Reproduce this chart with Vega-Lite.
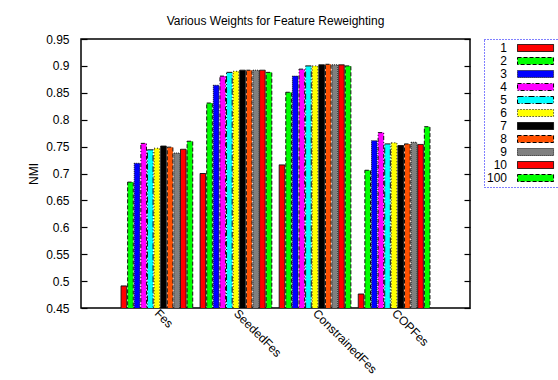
{
  "$schema": "https://vega.github.io/schema/vega-lite/v6.json",
  "width": 389,
  "height": 269,
  "autosize": "none",
  "padding": {"left": 81, "top": 39, "right": 88, "bottom": 72},
  "title": {"text": "Various Weights for Feature Reweighting", "fontSize": 12, "fontWeight": "normal", "font": "Liberation Sans", "offset": 5, "color": "black"},
  "config": {
    "font": "Liberation Sans",
    "view": {"stroke": "black", "strokeWidth": 1.5},
    "axis": {"labelFont": "Liberation Sans", "titleFont": "Liberation Sans", "labelFontSize": 12, "titleFontSize": 12, "labelColor": "black", "titleColor": "black", "tickColor": "black", "titleFontWeight": "normal", "grid": false, "domain": false, "zindex": 1}
  },
  "data": {"values": [
    {"method": "Fes", "weight": "1", "nmi": 0.491},
    {"method": "Fes", "weight": "2", "nmi": 0.684},
    {"method": "Fes", "weight": "3", "nmi": 0.719},
    {"method": "Fes", "weight": "4", "nmi": 0.756},
    {"method": "Fes", "weight": "5", "nmi": 0.744},
    {"method": "Fes", "weight": "6", "nmi": 0.747},
    {"method": "Fes", "weight": "7", "nmi": 0.751},
    {"method": "Fes", "weight": "8", "nmi": 0.749},
    {"method": "Fes", "weight": "9", "nmi": 0.738},
    {"method": "Fes", "weight": "10", "nmi": 0.745},
    {"method": "Fes", "weight": "100", "nmi": 0.760},
    {"method": "SeededFes", "weight": "1", "nmi": 0.700},
    {"method": "SeededFes", "weight": "2", "nmi": 0.831},
    {"method": "SeededFes", "weight": "3", "nmi": 0.864},
    {"method": "SeededFes", "weight": "4", "nmi": 0.881},
    {"method": "SeededFes", "weight": "5", "nmi": 0.888},
    {"method": "SeededFes", "weight": "6", "nmi": 0.890},
    {"method": "SeededFes", "weight": "7", "nmi": 0.892},
    {"method": "SeededFes", "weight": "8", "nmi": 0.892},
    {"method": "SeededFes", "weight": "9", "nmi": 0.892},
    {"method": "SeededFes", "weight": "10", "nmi": 0.892},
    {"method": "SeededFes", "weight": "100", "nmi": 0.888},
    {"method": "ConstrainedFes", "weight": "1", "nmi": 0.716},
    {"method": "ConstrainedFes", "weight": "2", "nmi": 0.851},
    {"method": "ConstrainedFes", "weight": "3", "nmi": 0.881},
    {"method": "ConstrainedFes", "weight": "4", "nmi": 0.894},
    {"method": "ConstrainedFes", "weight": "5", "nmi": 0.900},
    {"method": "ConstrainedFes", "weight": "6", "nmi": 0.900},
    {"method": "ConstrainedFes", "weight": "7", "nmi": 0.902},
    {"method": "ConstrainedFes", "weight": "8", "nmi": 0.903},
    {"method": "ConstrainedFes", "weight": "9", "nmi": 0.902},
    {"method": "ConstrainedFes", "weight": "10", "nmi": 0.902},
    {"method": "ConstrainedFes", "weight": "100", "nmi": 0.900},
    {"method": "COPFes", "weight": "1", "nmi": 0.476},
    {"method": "COPFes", "weight": "2", "nmi": 0.706},
    {"method": "COPFes", "weight": "3", "nmi": 0.761},
    {"method": "COPFes", "weight": "4", "nmi": 0.776},
    {"method": "COPFes", "weight": "5", "nmi": 0.755},
    {"method": "COPFes", "weight": "6", "nmi": 0.757},
    {"method": "COPFes", "weight": "7", "nmi": 0.752},
    {"method": "COPFes", "weight": "8", "nmi": 0.755},
    {"method": "COPFes", "weight": "9", "nmi": 0.758},
    {"method": "COPFes", "weight": "10", "nmi": 0.754},
    {"method": "COPFes", "weight": "100", "nmi": 0.787}
  ]},
  "layer": [
    {
      "mark": {"type": "rule", "opacity": 0},
      "encoding": {
        "y": {
          "field": "nmi", "type": "quantitative",
          "scale": {"domain": [0.45, 0.95], "nice": false, "zero": false},
          "axis": {"orient": "left", "title": "NMI", "values": [0.45, 0.5, 0.55, 0.6, 0.65, 0.7, 0.75, 0.8, 0.85, 0.9, 0.95], "format": "~g", "ticks": true, "tickWidth": 1.2, "tickSize": 6, "offset": -6, "labelPadding": 12, "titlePadding": 5}
        }
      }
    },
    {
      "mark": {"type": "bar", "stroke": "#111", "strokeWidth": 1, "clip": true},
      "encoding": {
        "x": {
          "field": "method", "type": "nominal",
          "sort": ["Fes", "SeededFes", "ConstrainedFes", "COPFes"],
          "scale": {"paddingInner": 0.081, "paddingOuter": 0.5},
          "axis": {"title": null, "labelAngle": 45, "labelAlign": "left", "labelBaseline": "middle", "ticks": false, "labelPadding": 3}
        },
        "xOffset": {
          "field": "weight", "type": "nominal",
          "sort": ["1", "2", "3", "4", "5", "6", "7", "8", "9", "10", "100"],
          "scale": {"paddingInner": 0.15, "paddingOuter": 0.075}
        },
        "y": {
          "field": "nmi", "type": "quantitative",
          "axis": null
        },
        "color": {
          "field": "weight", "type": "nominal",
          "sort": ["1", "2", "3", "4", "5", "6", "7", "8", "9", "10", "100"],
          "scale": {"domain": ["1", "2", "3", "4", "5", "6", "7", "8", "9", "10", "100"], "range": ["#ff0000", "#00ff00", "#0000ff", "#ff00ff", "#00ffff", "#ffff00", "#000000", "#ff5000", "#808080", "#ff0000", "#00ff00"]},
          "legend": {
            "title": null, "orient": "none", "legendX": 403, "legendY": 0,
            "symbolType": "M2,-1H12.3V1H2Z", "symbolSize": 49,
            "symbolStrokeColor": "black", "symbolStrokeWidth": 1,
            "symbolOffset": 17.5,
            "labelFontSize": 12, "labelColor": "black", "labelFont": "Liberation Sans",
            "rowPadding": 1, "padding": 3,
            "strokeColor": "blue", "fillColor": "white",
            "encode": {
              "legend": {"update": {"strokeDash": {"value": [1, 2]}}},
              "labels": {"update": {"align": {"value": "right"}, "x": {"value": 20}}}
            }
          }
        },
        "strokeDash": {
          "field": "weight", "type": "nominal",
          "sort": ["1", "2", "3", "4", "5", "6", "7", "8", "9", "10", "100"],
          "scale": {"domain": ["1", "2", "3", "4", "5", "6", "7", "8", "9", "10", "100"], "range": [[1, 0], [4, 2], [1, 1], [4, 2, 1, 2], [6, 2, 1, 2], [1, 2], [1, 0], [4, 2], [1, 1], [1, 0], [4, 2]]}
        }
      }
    },
    {
      "mark": {"type": "rule", "opacity": 0},
      "encoding": {
        "y": {
          "field": "nmi", "type": "quantitative",
          "axis": {"orient": "right", "labels": false, "title": null, "values": [0.45, 0.5, 0.55, 0.6, 0.65, 0.7, 0.75, 0.8, 0.85, 0.9, 0.95], "ticks": true, "tickWidth": 1.2, "tickSize": 6, "offset": -6}
        }
      }
    }
  ],
  "resolve": {"axis": {"y": "independent"}}
}
